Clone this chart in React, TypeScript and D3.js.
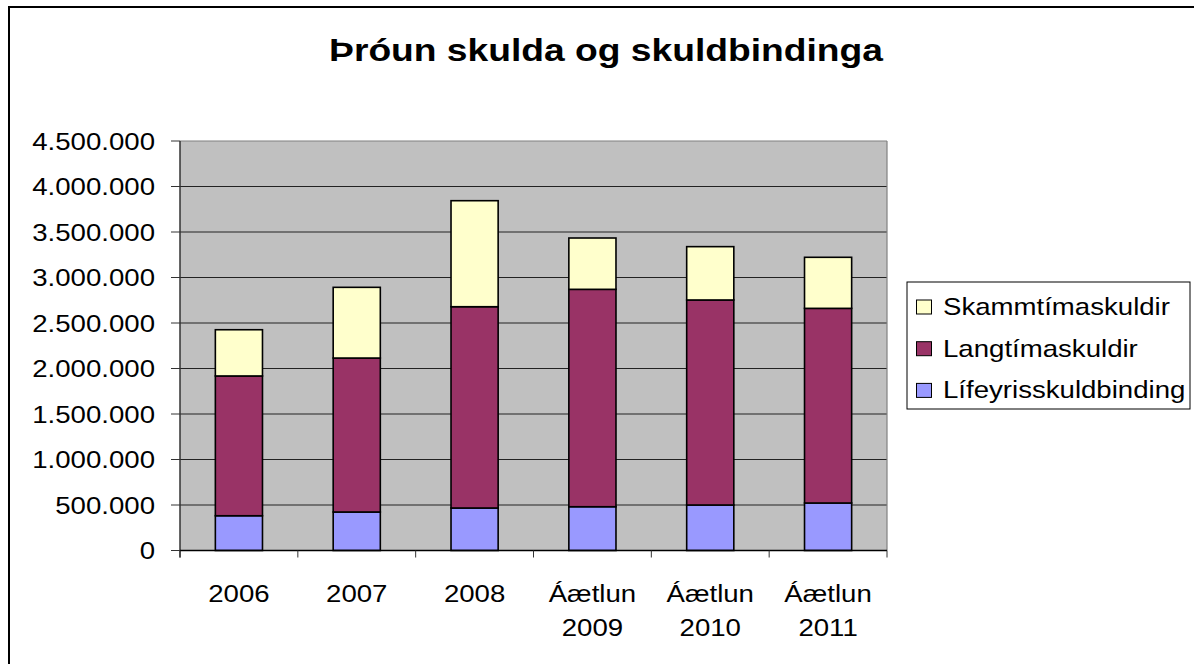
import React from "react";
import * as d3 from "d3";

const categories = ["2006", "2007", "2008", "Áætlun 2009", "Áætlun 2010", "Áætlun 2011"];
const lifeyrisskuldbinding = [382000, 423000, 467000, 481000, 500000, 522000];
const langtimaskuldir = [1536000, 1692000, 2212000, 2389000, 2253000, 2139000];
const skammtimaskuldir = [508000, 777000, 1165000, 564000, 586000, 561000];
const yTicks = [0, 500000, 1000000, 1500000, 2000000, 2500000, 3000000, 3500000, 4000000, 4500000];

const seriesNames = ["Lífeyrisskuldbinding", "Langtímaskuldir", "Skammtímaskuldir"];
const colors = ["#9999FF", "#993366", "#FFFFCC"];

const W = 1194;
const H = 664;
const plot = { left: 180, right: 887, top: 141, bottom: 550.5 };
const FONT = "'Liberation Sans', Arial, sans-serif";
const SX = 1.15; // picture is a bit wider than tall

const fmt = d3.formatLocale({ decimal: ",", thousands: ".", grouping: [3], currency: ["", ""] }).format(",");

export default function App() {
  const x = d3
    .scaleBand()
    .domain(categories)
    .range([plot.left, plot.right])
    .paddingInner(0.6)
    .paddingOuter(0.3);
  const y = d3.scaleLinear().domain([0, 4500000]).range([plot.bottom, plot.top]);

  const rows = categories.map((c, i) => ({
    cat: c,
    [seriesNames[0]]: lifeyrisskuldbinding[i],
    [seriesNames[1]]: langtimaskuldir[i],
    [seriesNames[2]]: skammtimaskuldir[i],
  }));
  const stacked = d3.stack().keys(seriesNames)(rows as any);

  const step = x.step();
  const boundaries = d3.range(categories.length + 1).map((i) => plot.left + i * step);

  const legendItems = [2, 1, 0];

  return (
    <svg
      width={W}
      height={H}
      style={{ position: "absolute", left: 0, top: 0, background: "#fff" }}
      fontFamily={FONT}
    >
      <rect x={0} y={0} width={W} height={H} fill="#fff" />
      <rect x={9} y={7} width={1300} height={800} fill="none" stroke="#000" strokeWidth={2} />

      <g transform={`translate(606,60.7) scale(1.2,1)`}>
        <text textAnchor="middle" fontSize={31} fontWeight="bold" fill="#000">
          Þróun skulda og skuldbindinga
        </text>
      </g>

      {/* plot area */}
      <rect
        x={plot.left}
        y={plot.top}
        width={plot.right - plot.left}
        height={plot.bottom - plot.top}
        fill="#C0C0C0"
      />
      {yTicks.slice(1).map((t) => (
        <line key={t} x1={plot.left} x2={plot.right} y1={y(t)} y2={y(t)} stroke={t === 4500000 ? "#808080" : "#222"} strokeWidth={1.2} />
      ))}
      <line x1={plot.right} x2={plot.right} y1={plot.top} y2={plot.bottom} stroke="#808080" strokeWidth={1.2} />

      {stacked.map((s, si) =>
        s.map((d, i) => (
          <rect
            key={`${si}-${i}`}
            x={x(categories[i])}
            y={y(d[1])}
            width={x.bandwidth()}
            height={y(d[0]) - y(d[1])}
            fill={colors[si]}
            stroke="#000"
            strokeWidth={1.6}
          />
        ))
      )}

      {/* axes */}
      <line x1={plot.left} x2={plot.left} y1={plot.top} y2={plot.bottom + 7} stroke="#333" strokeWidth={1.5} />
      <line x1={plot.left} x2={plot.right} y1={plot.bottom} y2={plot.bottom} stroke="#000" strokeWidth={1.5} />
      {yTicks.map((t) => (
        <g key={t}>
          <line x1={plot.left - 9} x2={plot.left} y1={y(t)} y2={y(t)} stroke="#333" strokeWidth={1} />
          <g transform={`translate(155,${y(t) + 8.5}) scale(${SX},1)`}>
            <text textAnchor="end" fontSize={24} fill="#000">
              {fmt(t)}
            </text>
          </g>
        </g>
      ))}
      {boundaries.map((bx, i) => (
        <line key={i} x1={bx} x2={bx} y1={plot.bottom} y2={plot.bottom + 7} stroke="#333" strokeWidth={1} />
      ))}
      {categories.map((c) => {
        const cx = (x(c) as number) + x.bandwidth() / 2;
        const parts = c.split(" ");
        return parts.map((p, j) => (
          <g key={c + j} transform={`translate(${cx},${602 + j * 34}) scale(${SX},1)`}>
            <text textAnchor="middle" fontSize={24} fill="#000">
              {p}
            </text>
          </g>
        ));
      })}

      {/* legend */}
      <rect x={907} y={282} width={283} height={127} fill="#fff" stroke="#000" strokeWidth={1} />
      {legendItems.map((si, k) => {
        const by = 315 + k * 41.7;
        return (
          <g key={si}>
            <rect x={916.5} y={by - 15} width={15} height={14} fill={colors[si]} stroke="#000" strokeWidth={1} />
            <g transform={`translate(943,${by}) scale(${SX},1)`}>
              <text fontSize={24} fill="#000">
                {seriesNames[si]}
              </text>
            </g>
          </g>
        );
      })}
    </svg>
  );
}
